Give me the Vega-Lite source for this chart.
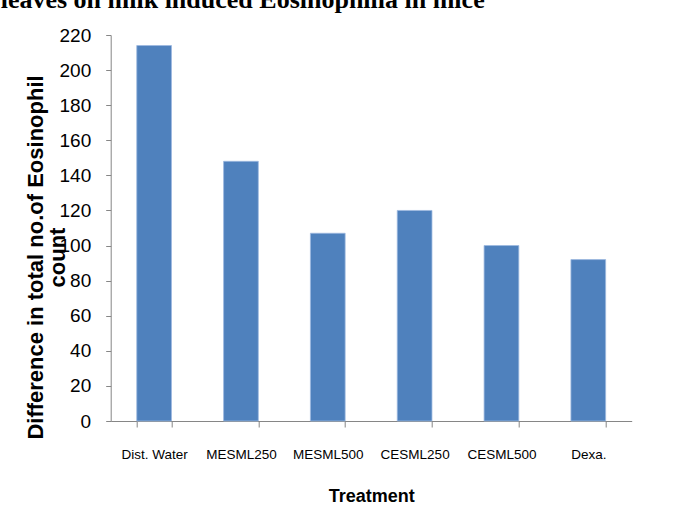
{
  "$schema": "https://vega.github.io/schema/vega-lite/v6.json",
  "autosize": "none",
  "width": 521,
  "height": 386,
  "padding": {"left": 110.7, "top": 35, "right": 62.3, "bottom": 86},
  "background": "white",
  "title": {
    "text": "leaves on milk induced Eosinophilia in mice",
    "font": "Liberation Serif",
    "fontSize": 26,
    "fontWeight": "bold",
    "color": "#000000",
    "anchor": "start",
    "frame": "group",
    "dx": -110,
    "dy": 9,
    "offset": 1,
    "baseline": "alphabetic"
  },
  "data": {
    "values": [
      {"Treatment": "Dist. Water", "Count": 214},
      {"Treatment": "MESML250", "Count": 148},
      {"Treatment": "MESML500", "Count": 107},
      {"Treatment": "CESML250", "Count": 120},
      {"Treatment": "CESML500", "Count": 100},
      {"Treatment": "Dexa.", "Count": 92}
    ]
  },
  "mark": {"type": "bar", "color": "#4F81BD", "stroke": "#9DB9E0", "strokeWidth": 0.8},
  "encoding": {
    "x": {
      "field": "Treatment",
      "type": "nominal",
      "sort": null,
      "scale": {"paddingInner": 0.6, "paddingOuter": 0.3},
      "axis": {
        "title": "Treatment",
        "labelAngle": 0,
        "tickBand": "extent",
        "tickSize": 6,
        "labelPadding": 20,
        "labelFont": "Liberation Sans",
        "labelFontSize": 13.5,
        "titleFont": "Liberation Sans",
        "titleFontSize": 18,
        "titleFontWeight": "bold",
        "titlePadding": 27
      }
    },
    "y": {
      "field": "Count",
      "type": "quantitative",
      "scale": {"domain": [0, 220], "nice": false},
      "axis": {
        "title": ["Difference in total no.of Eosinophil", "count"],
        "values": [0, 20, 40, 60, 80, 100, 120, 140, 160, 180, 200, 220],
        "grid": false,
        "tickSize": 5,
        "labelPadding": 15,
        "labelFont": "Liberation Sans",
        "labelFontSize": 19,
        "titleFont": "Liberation Sans",
        "titleFontSize": 22,
        "titleFontWeight": "bold",
        "titleLineHeight": 22,
        "titleY": 222,
        "titleX": -63,
        "titleBaseline": "bottom",
        "titleAlign": "center",
        "titleAngle": 270
      }
    }
  },
  "config": {
    "view": {"stroke": null},
    "axis": {
      "domainColor": "#868686",
      "tickColor": "#868686",
      "labelColor": "#000000",
      "titleColor": "#000000"
    }
  }
}
